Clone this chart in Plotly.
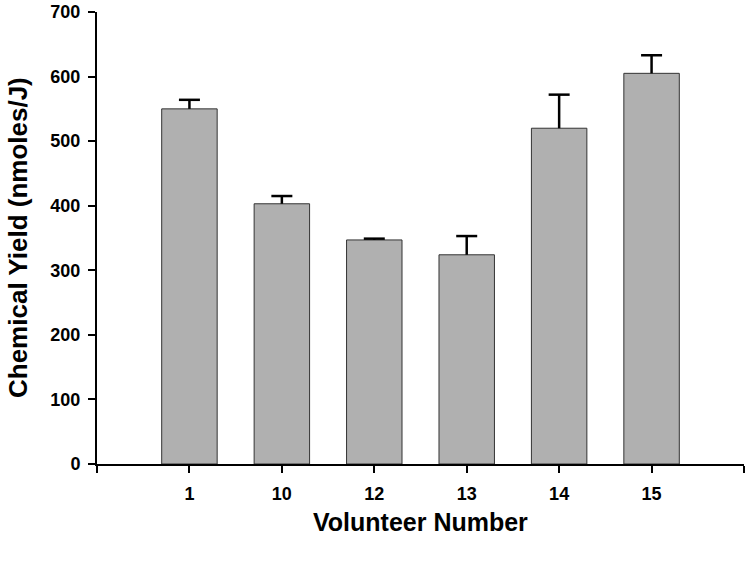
import plotly.graph_objects as go

volunteers = ["1", "10", "12", "13", "14", "15"]
yield_vals = [550, 403, 347, 324, 520, 605]
yield_err = [14, 12, 2, 29, 52, 28]
y_ticks = [0, 100, 200, 300, 400, 500, 600, 700]

xpos = list(range(len(volunteers)))

fig = go.Figure()
fig.add_trace(go.Bar(
    x=xpos, y=yield_vals, width=0.6,
    marker=dict(color="#b0b0b0", line=dict(color="#333333", width=1)),
    hoverinfo="skip",
))

# upper-only error bars (stem + cap, no lower cap)
stem_x, stem_y = [], []
for xi, v, e in zip(xpos, yield_vals, yield_err):
    stem_x += [xi, xi, None]
    stem_y += [v, v + e, None]
fig.add_trace(go.Scatter(
    x=stem_x, y=stem_y, mode="lines",
    line=dict(color="black", width=2.5), hoverinfo="skip",
))
fig.add_trace(go.Scatter(
    x=xpos, y=[v + e for v, e in zip(yield_vals, yield_err)], mode="markers",
    marker=dict(symbol="line-ew", size=15, line=dict(color="black", width=2.5)),
    hoverinfo="skip",
))

font_family = "Liberation Sans, Arial, sans-serif"
W, H = 750, 565
L, T = 97, 12
R = W - 744
B = H - 464
pw, ph = W - L - R, H - T - B

def px_x(x):  # screen x -> paper
    return (x - L) / pw

def px_y(y):  # screen y -> paper
    return (H - B - y) / ph

fig.update_layout(
    width=W, height=H,
    margin=dict(l=L, r=R, t=T, b=B, autoexpand=False),
    paper_bgcolor="white", plot_bgcolor="white",
    showlegend=False,
    font=dict(family=font_family, color="black"),
    xaxis=dict(
        range=[-1, 6],
        tickvals=[-1] + xpos + [6],
        ticktext=[""] + volunteers + [""],
        ticks="outside", ticklen=7, tickwidth=2, tickcolor="black",
        showline=True, linecolor="black", linewidth=2,
        showgrid=False, zeroline=False, automargin=False,
        tickfont=dict(size=18, family=font_family, weight="bold"),
        ticklabelstandoff=5,
    ),
    yaxis=dict(
        range=[0, 700],
        tickvals=y_ticks,
        ticks="outside", ticklen=7, tickwidth=2, tickcolor="black",
        showline=True, linecolor="black", linewidth=2,
        showgrid=False, zeroline=False, automargin=False,
        tickfont=dict(size=18, family=font_family, weight="bold"),
        ticklabelstandoff=4,
    ),
    annotations=[
        dict(text="<b>Volunteer Number</b>", xref="paper", yref="paper",
             x=px_x(420), y=px_y(522), xanchor="center", yanchor="middle",
             showarrow=False, font=dict(size=25, family=font_family)),
        dict(text="<b>Chemical Yield (nmoles/J)</b>", xref="paper", yref="paper",
             x=px_x(18), y=px_y(238), xanchor="center", yanchor="middle",
             textangle=-90, showarrow=False, font=dict(size=26, family=font_family)),
    ],
)

fig.write_html("out.html", config={"displayModeBar": False},
               post_script="document.body.style.margin='0px';document.body.style.padding='0px';")
